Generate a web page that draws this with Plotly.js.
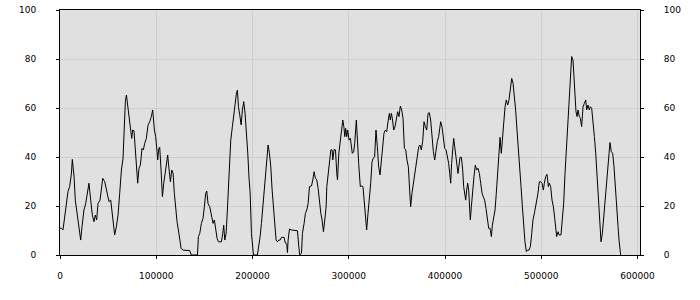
<!DOCTYPE html>
<html>
<head>
<meta charset="utf-8">
<script src="https://cdn.plot.ly/plotly-3.0.1.min.js"></script>
<style>html,body{margin:0;padding:0;background:#fff;}#chart{width:700px;height:300px;}</style>
</head>
<body>
<div id="chart"></div>
<script>
var xValues = [
0,1400,3100,4800,6600,8300,10000,11800,12800,14600,15900,18000,19800,21500,22900,24900,26700,28400,30100,31900,33600,35300,36700,38100,39500,41600,43000,44400,46400,48200,49900,50900,52700,54100,55400,56800,58600,60300,62000,63800,65500,66500,67900,69000,70300,71700,73100,74500,75500,76900,78300,79700,80700,82100,83500,85200,86600,88000,89700,91500,93200,94900,96300,98100,
99400,100800,101500,102600,103600,105000,106400,107800,109100,110500,111900,113000,114000,114700,116100,117500,118800,120200,121600,123000,124400,125800,127900,131300,134800,136500,140000,142800,143800,145200,146900,148600,150000,151400,152500,153800,155600,157300,159000,160400,161800,163200,164600,166000,167700,169100,170100,171200,172600,173900,175700,177400,179100,180500,181900,183300,184300,185400,186800,188200,189500,190900,192300,193700,195100,196500,197500,
198900,200300,201000,205100,206500,207900,209300,210700,212100,213400,214800,216200,217600,219000,220400,221800,223100,224500,225900,227300,228700,230100,232800,234200,235600,236300,237000,238400,240500,243900,246700,248100,249100,250900,251900,253600,255000,256400,257800,259200,261300,262600,264000,265400,266800,268200,269600,271000,272300,273700,275100,276500,277200,278600,280000,281400,282700,283400,284800,286200,287600,288300,289700,291100,292400,293800,294900,295900,
296800,297900,298900,300300,301700,302700,303700,305100,306200,307900,308900,310300,312000,313400,314800,316200,317600,318600,320000,321400,322800,324200,325500,326900,328300,329700,331100,332500,333900,335200,336600,338000,339400,340800,342200,343200,344300,345300,346700,348100,349400,350800,352200,353600,355000,356400,357800,359200,360500,361900,363300,364300,365700,367100,368500,369900,371300,372700,374000,375400,376800,378200,379600,381000,382400,383700,385100,386500,387900,389300,390700,392000,393400,394500,
395500,396900,398300,399700,401100,402400,403800,404900,405900,406900,408000,409000,410100,411400,412500,413500,414600,415600,417000,418400,419400,420400,421500,422500,423600,424600,425600,426300,427400,428800,430100,431500,432900,434300,435700,437100,438500,439800,441200,442600,444000,445400,446800,448200,449200,450600,452000,453300,454700,456100,457200,458500,459600,461000,462400,463700,465100,466500,467900,469300,470700,472000,473400,474800,476200,477600,479000,480400,481800,483100,484500,485900,487300,488700,490100,491400,
493200,494900,496600,498000,499400,500800,502200,503200,504600,506000,507400,508400,509800,511200,512600,514000,515000,516000,517400,518500,520500,521900,523300,524700,526100,527500,528900,530200,531600,533000,534000,535100,536100,537200,538200,539600,540600,542000,543400,544800,546200,547200,548600,550000,551000,552400,553800,555200,556600,557900,559300,560400,561400,562100,563500,564900,566300,567600,569000,570400,571400,572800,574200,575600,577000,578400,579800,580800,581800,582500
];
var yValues = [
11,10.9,10.2,15.6,19.7,25.9,27.9,33,39,32,22.4,17,11.6,6.1,11.6,18.4,21,25,29.3,22.4,16.3,13.6,16.3,14.3,21,22.4,26.5,31.3,30,27.2,23.8,21.8,22.4,17,10.9,8.2,11.6,16.3,25,34.7,39.5,52.4,62.6,65.3,60.5,55.1,51,47.6,51,50.7,42.9,34.7,29.3,35.4,36.7,43.5,42.9,45.6,47.6,53.1,54.4,56.5,59.2,51,
48.3,42.2,38.8,43.5,44,34.7,23.8,29.3,32.7,36,40.8,36,32.7,29.9,34.7,33.3,25.2,17.7,13.6,10.2,6.1,2.7,2,2,1.8,0,0,0,7.5,8.8,12.9,15,19.7,25.2,26.1,21,19.7,15.6,12.9,14.3,9.5,6.8,5.4,5.4,5.4,8.8,12.2,6.1,8.8,18.4,34.7,46.9,52.4,57.8,62.6,66,67.3,60.5,57.1,53.1,59.2,62.6,57.8,51,41.5,30.6,25.9,
8.8,0.7,0,0,3.4,7.5,12.9,19.7,27.9,34.7,40.1,44.9,41.5,36,26.5,18.4,11.6,6.1,5.4,6.1,6.1,7.2,7.2,4.8,4.5,1,6.1,10.6,10.2,9.9,9.9,3.4,0,0.7,8.8,12.9,17,18.4,21,27.9,28.2,30.6,34,31.3,30.6,27.2,21,17,14.3,9.5,14.3,19.7,27.9,33.3,38.1,42.9,42.9,38.8,43.1,42.9,33.3,30.6,41.5,46.9,50.3,55.1,52.4,48.3,
51.7,48.3,51,46.9,47.6,43.5,41.5,42.2,45.6,55.1,46.9,37.4,27.9,28.2,27.9,19.7,12.9,10.2,17,22.4,29.3,38.1,39.5,40.1,51,44.2,36,32.7,38.8,45.6,49.7,51,50.3,54.4,57.8,55.1,57.8,55.8,51,52.4,55.8,58.5,56.5,60.8,59.2,55.8,43.5,42.9,38.8,36,26.5,19.7,25.2,29.3,33.3,37.4,40.1,44.2,44.9,42.9,46.3,54.4,52.4,51,57.8,58.1,55.1,46.9,42.2,38.8,42.9,46.3,48.3,52.4,
54.4,52.4,46.9,43.5,42.9,40.1,37.4,33.3,29.3,37.4,42.9,47.6,44.2,40.1,36.7,33.3,36.7,39.9,39.9,34.7,27.9,23.8,22.4,26.5,29.3,26.5,19.7,14.3,19.7,27.9,32,36.7,34.7,35.4,33.3,29.3,25.2,23.8,22.4,19,14.3,10.9,10.9,7.5,12.2,16.3,18.4,25.2,34.7,42.9,48,41.5,46.9,54.4,60.5,63.3,61.2,63.3,67.3,72.1,70.1,66,59.2,51,44.2,36,27.9,19.7,11.6,5.4,1.4,2,2,3.4,8.8,14.3,
17.7,21.1,25.2,29.9,29.9,29.3,26.5,29.3,32,32.9,27.9,29.3,27.9,22.4,19.7,15,10.2,7.5,9.5,8.2,8.2,13.6,21.1,33.3,44.2,55.1,63.3,74.1,81,79.6,72.8,66,58.5,56.5,59.2,56.5,55.8,52.4,60.5,61.9,63.3,59.2,61.2,59.2,60.5,59.9,55.1,48.3,41.5,32,23.8,15.6,7.5,5.4,8.8,15.6,22.4,30.6,37.4,42.9,45.9,42.2,41.5,36,26.5,17,11.6,6.1,0.7,0
];
var xTickValues = [0,100000,200000,300000,400000,500000,600000];
var yTickValues = [0,20,40,60,80,100];

var font = {family: 'DejaVu Sans, Verdana, sans-serif', size: 9, color: '#000'};
var data = [
  {x: xValues, y: yValues, type: 'scatter', mode: 'lines',
   line: {color: '#000', width: 1}, hoverinfo: 'skip', showlegend: false},
  {x: [], y: [], yaxis: 'y2', type: 'scatter', mode: 'lines', showlegend: false, hoverinfo: 'skip'}
];
var layout = {
  width: 700, height: 300,
  margin: {l: 60, r: 60, t: 10, b: 45, pad: 0},
  paper_bgcolor: '#ffffff',
  plot_bgcolor: '#e0e0e0',
  font: font,
  showlegend: false,
  xaxis: {
    range: [0, 602600], tickvals: xTickValues, tickformat: 'd',
    showgrid: true, gridcolor: '#cecece', gridwidth: 1, zeroline: false,
    showline: true, linecolor: '#000', linewidth: 1, mirror: true,
    ticks: 'outside', ticklen: 3, tickcolor: '#000', tickfont: font,
    ticklabelstandoff: 9
  },
  yaxis: {
    range: [0, 100], tickvals: yTickValues,
    showgrid: true, gridcolor: '#cecece', gridwidth: 1, zeroline: false,
    showline: true, linecolor: '#000', linewidth: 1, mirror: true,
    ticks: 'outside', ticklen: 3, tickcolor: '#000', tickfont: font,
    ticklabelstandoff: 18
  },
  yaxis2: {
    range: [0, 100], tickvals: yTickValues, overlaying: 'y', side: 'right',
    showgrid: false, zeroline: false, showline: false,
    ticks: 'outside', ticklen: 3, tickcolor: '#000', tickfont: font,
    ticklabelstandoff: 18
  }
};
Plotly.newPlot('chart', data, layout, {staticPlot: true, displayModeBar: false});
</script>
</body>
</html>
